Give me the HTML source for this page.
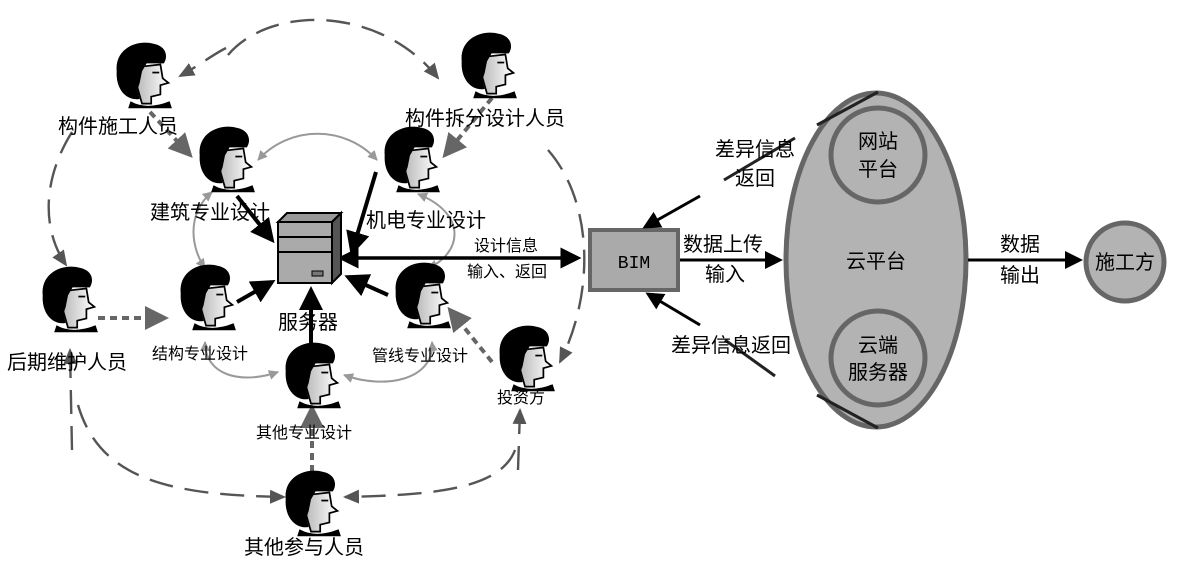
<!DOCTYPE html>
<html><head><meta charset="utf-8"><style>
html,body{margin:0;padding:0;background:#fff;}
svg{display:block;font-family:"Liberation Sans","Noto Sans CJK SC",sans-serif;}
</style></head><body>
<svg width="1182" height="562" viewBox="0 0 1182 562" xmlns="http://www.w3.org/2000/svg">
<defs>
<linearGradient id="fg" x1="0" x2="1"><stop offset="0" stop-color="#bbb"/><stop offset="1" stop-color="#fff"/></linearGradient>
<marker id="ab" markerWidth="6" markerHeight="6" refX="5" refY="3" orient="auto" markerUnits="strokeWidth"><path d="M0,0 L6,3 L0,6 z" fill="#000"/></marker>
<marker id="abs" markerWidth="6" markerHeight="6" refX="1" refY="3" orient="auto-start-reverse" markerUnits="strokeWidth"><path d="M0,0 L6,3 L0,6 z" fill="#000"/></marker>
<marker id="ag" markerWidth="16" markerHeight="14" refX="14" refY="7" orient="auto" markerUnits="userSpaceOnUse"><path d="M0,0 L16,7 L0,14 z" fill="#555"/></marker>
<marker id="ag2" markerWidth="6" markerHeight="6" refX="5" refY="3" orient="auto" markerUnits="strokeWidth"><path d="M0,0 L6,3 L0,6 z" fill="#666"/></marker>
<marker id="al" markerWidth="10" markerHeight="10" refX="9" refY="5" orient="auto-start-reverse" markerUnits="userSpaceOnUse"><path d="M0,0 L10,5 L0,10 z" fill="#999"/></marker>
<g id="p">
<path d="M-10,22 Q4,30 24,22 L26,28 L-12,28 z" fill="#000"/>
<path d="M-2,-8 L16,-10 L18,2 L23,6 L16,8 L16,16 L8,18 L8,24 L0,24 L-4,10 z" fill="url(#fg)" stroke="#000" stroke-width="1.5"/>
<path d="M-22,-4 C-24,-24 -4,-32 10,-28 C21,-26 23,-17 19,-11 L4,-11 L0,-4 L-2,6 L-4,12 L-2,20 C-13,22 -23,12 -22,-4 z" fill="#000"/>
<line x1="9" y1="-3" x2="15" y2="-3" stroke="#000" stroke-width="1.5"/>
</g>
</defs>

<g fill="none" stroke="#555" stroke-width="2.4" stroke-dasharray="24,12">
<path d="M228,55 C270,5 380,5 438,78" marker-end="url(#ag)"/>
<path d="M226,48 C212,55 200,65 180,76" marker-end="url(#ag)"/>
<path d="M72,132 C42,180 42,230 66,265" marker-end="url(#ag)"/>
<path d="M548,150 C592,200 596,290 560,362" marker-end="url(#ag)"/>
<path d="M78,405 C100,480 170,495 284,497" marker-end="url(#ag)"/>
<path d="M515,450 C500,490 430,495 345,497" marker-end="url(#ag)"/>
<path d="M72,450 L70,350" marker-end="url(#ag)"/>
<path d="M518,470 L520,410" marker-end="url(#ag)"/>
</g>
<g fill="none" stroke="#666" stroke-width="4" stroke-dasharray="7,5">
<line x1="98" y1="318" x2="165" y2="318" marker-end="url(#ag2)"/>
<line x1="150" y1="112" x2="190" y2="155" marker-end="url(#ag2)"/>
<line x1="492" y1="98" x2="445" y2="155" marker-end="url(#ag2)"/>
<line x1="492" y1="362" x2="450" y2="310" marker-end="url(#ag2)"/>
<line x1="312" y1="472" x2="312" y2="408" marker-end="url(#ag2)"/>
</g>
<g fill="none" stroke="#999" stroke-width="2">
<path d="M258,160 C290,125 345,125 377,160" marker-start="url(#al)" marker-end="url(#al)"/>
<path d="M212,192 C185,215 192,250 205,268" marker-start="url(#al)" marker-end="url(#al)"/>
<path d="M418,194 C470,215 460,255 428,268" marker-start="url(#al)" marker-end="url(#al)"/>
<path d="M205,342 C205,375 240,385 278,372" marker-start="url(#al)" marker-end="url(#al)"/>
<path d="M432,342 C435,380 385,390 344,375" marker-start="url(#al)" marker-end="url(#al)"/>
</g>
<g stroke="#000" stroke-width="4" fill="none">
<line x1="237" y1="196" x2="272" y2="240" marker-end="url(#ab)"/>
<line x1="376" y1="172" x2="352" y2="252" marker-end="url(#ab)"/>
<line x1="237" y1="302" x2="272" y2="282" marker-end="url(#ab)"/>
<line x1="388" y1="295" x2="348" y2="277" marker-end="url(#ab)"/>
<line x1="311" y1="352" x2="311" y2="290" marker-end="url(#ab)"/>
<line x1="355" y1="258" x2="578" y2="258" stroke-width="3.5" marker-start="url(#abs)" marker-end="url(#ab)"/>
</g>
<g stroke="#000" stroke-width="2">
<path d="M278,222 L287,213 L341,213 L332,222 z" fill="#999"/>
<path d="M332,222 L341,213 L341,274 L332,283 z" fill="#555"/>
<rect x="278" y="222" width="54" height="61" fill="#aaa"/>
<line x1="278" y1="237" x2="332" y2="237"/>
<line x1="278" y1="252" x2="332" y2="252"/>
<rect x="312" y="271" width="11" height="5" fill="#777" stroke-width="1"/>
</g>
<use href="#p" transform="translate(142,76) scale(1.15)"/>
<use href="#p" transform="translate(487,66) scale(1.15)"/>
<use href="#p" transform="translate(225,160) scale(1.15)"/>
<use href="#p" transform="translate(410,160) scale(1.15)"/>
<use href="#p" transform="translate(68,300) scale(1.15)"/>
<use href="#p" transform="translate(206,298) scale(1.15)"/>
<use href="#p" transform="translate(421,296) scale(1.15)"/>
<use href="#p" transform="translate(311,376) scale(1.15)"/>
<use href="#p" transform="translate(525,359) scale(1.15)"/>
<use href="#p" transform="translate(311,504) scale(1.15)"/>
<g font-size="20" fill="#000">
<text x="58" y="133">构件施工人员</text>
<text x="405" y="125">构件拆分设计人员</text>
<text x="150" y="219">建筑专业设计</text>
<text x="366" y="227">机电专业设计</text>
<text x="7" y="369">后期维护人员</text>
<text x="278" y="329">服务器</text>
<text x="244" y="554">其他参与人员</text>
</g>
<g font-size="16" fill="#000">
<text x="152" y="359">结构专业设计</text>
<text x="372" y="361">管线专业设计</text>
<text x="256" y="438">其他专业设计</text>
<text x="497" y="403">投资方</text>
<text x="474" y="251">设计信息</text>
<text x="467" y="277">输入、返回</text>
</g>
<ellipse cx="876" cy="260" rx="90" ry="167" fill="#b3b3b3" stroke="#666" stroke-width="5"/>
<circle cx="878" cy="155" r="47" fill="#b3b3b3" stroke="#666" stroke-width="5"/>
<circle cx="878" cy="358" r="47" fill="#b3b3b3" stroke="#666" stroke-width="5"/>
<circle cx="1125" cy="262" r="39" fill="#b3b3b3" stroke="#666" stroke-width="5"/>
<rect x="590" y="230" width="88" height="60" fill="#aaa" stroke="#666" stroke-width="4"/>
<g stroke="#222" stroke-width="3">
<line x1="817" y1="125" x2="878" y2="92"/>
<line x1="817" y1="395" x2="878" y2="428"/>
<line x1="724" y1="180" x2="795" y2="138"/>
<line x1="725" y1="340" x2="775" y2="376"/>
</g>
<g stroke="#000" stroke-width="3" fill="none">
<line x1="700" y1="196" x2="645" y2="227" marker-end="url(#ab)"/>
<line x1="700" y1="325" x2="648" y2="294" marker-end="url(#ab)"/>
<line x1="680" y1="260" x2="780" y2="260" marker-end="url(#ab)"/>
<line x1="968" y1="260" x2="1080" y2="260" marker-end="url(#ab)"/>
</g>
<text x="634" y="268" font-family="Liberation Mono,monospace" font-size="18" text-anchor="middle">BIM</text>
<g font-size="20" fill="#000" text-anchor="middle">
<text x="723" y="251">数据上传</text>
<text x="725" y="281">输入</text>
<text x="1020" y="251">数据</text>
<text x="1020" y="282">输出</text>
<text x="876" y="268">云平台</text>
<text x="878" y="148">网站</text>
<text x="878" y="176">平台</text>
<text x="878" y="352">云端</text>
<text x="878" y="379">服务器</text>
<text x="1125" y="269">施工方</text>
<text x="755" y="156">差异信息</text>
<text x="755" y="185">返回</text>
<text x="731" y="352">差异信息返回</text>
</g>
</svg>
</body></html>
